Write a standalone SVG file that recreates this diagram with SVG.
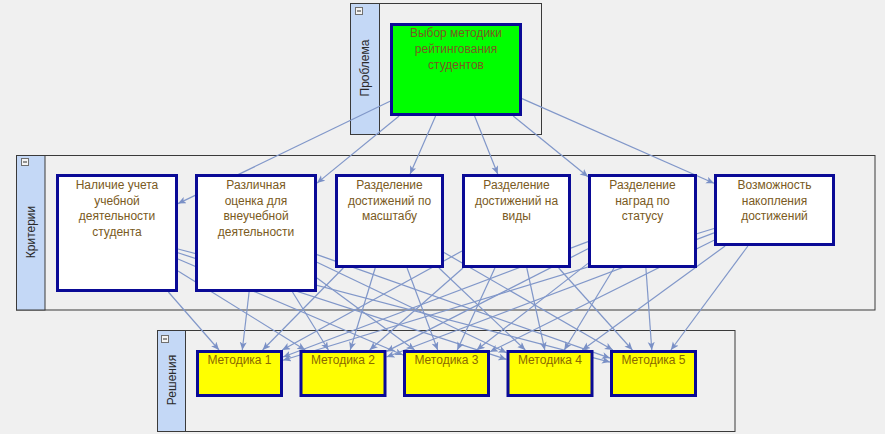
<svg xmlns="http://www.w3.org/2000/svg" width="885" height="434" viewBox="0 0 885 434">
<defs>
<marker id="arr" markerWidth="9" markerHeight="8" refX="8" refY="3.5" orient="auto" markerUnits="userSpaceOnUse">
<path d="M0,0 L8,3.5 L0,7 L2,3.5 z" fill="#7a90c6"/>
</marker>
<style>
.panel{fill:#f0f0f0;stroke:#3a3a3a;stroke-width:1}
.hdr{fill:#c4d8f6;stroke:#3a3a3a;stroke-width:1}
.hdrt{font-family:"Liberation Sans",Arial,sans-serif;font-size:12px;fill:#2a2a2a;text-anchor:middle}
.ico{fill:#f4f4f4;stroke:#707070;stroke-width:1}
.icm{stroke:#303030;stroke-width:1}
.node{stroke:#0a0a96;stroke-width:3}
.crit{fill:#ffffff}
.prob{fill:#00ff00}
.meth{fill:#ffff00}
.t{font-family:"Liberation Sans",Arial,sans-serif;font-size:12px;fill:#7a5a22;text-anchor:middle}
.tm{font-family:"Liberation Sans",Arial,sans-serif;font-size:12px;fill:#8a6a00;text-anchor:middle}
.c{stroke:#8197c9;stroke-width:1.2;fill:none;marker-end:url(#arr)}
</style>
</defs>
<rect x="0" y="0" width="885" height="434" fill="#f0f0f0"/>

<g id="panel-problem">
<rect class="panel" x="350.5" y="3.5" width="191" height="131"/>
<rect class="hdr" x="350.5" y="3.5" width="29" height="131"/>
<rect class="ico" x="355.5" y="7.5" width="7" height="7"/>
<line class="icm" x1="357" y1="11" x2="361" y2="11"/>
<text class="hdrt" transform="translate(369,68) rotate(-90)">Проблема</text>
</g>
<g id="panel-criteria">
<rect class="panel" x="16.5" y="155.5" width="858.5" height="154.5"/>
<rect class="hdr" x="16.5" y="155.5" width="28.5" height="154.5"/>
<rect class="ico" x="21.5" y="158.5" width="7" height="7"/>
<line class="icm" x1="23" y1="162" x2="27" y2="162"/>
<text class="hdrt" transform="translate(35,232) rotate(-90)">Критерии</text>
</g>
<g id="panel-solutions">
<rect class="panel" x="157.5" y="330.5" width="577.5" height="101"/>
<rect class="hdr" x="157.5" y="330.5" width="28" height="101"/>
<rect class="ico" x="161.5" y="335.5" width="7" height="7"/>
<line class="icm" x1="163" y1="339" x2="167" y2="339"/>
<text class="hdrt" transform="translate(176,380) rotate(-90)">Решения</text>
</g>

<g id="connectors">
<line class="c" x1="390" y1="101.3" x2="178" y2="203.6"/>
<line class="c" x1="399.1" y1="116" x2="317" y2="183.1"/>
<line class="c" x1="435.6" y1="116" x2="410.1" y2="174"/>
<line class="c" x1="474.6" y1="116" x2="497.7" y2="174"/>
<line class="c" x1="513.2" y1="116" x2="588" y2="176.7"/>
<line class="c" x1="522" y1="98.6" x2="714" y2="183.3"/>

<line class="c" x1="168.4" y1="292" x2="219" y2="350"/>
<line class="c" x1="178" y1="270.9" x2="305.2" y2="350"/>
<line class="c" x1="178" y1="259" x2="403" y2="355"/>
<line class="c" x1="178" y1="252.8" x2="506.5" y2="359.4"/>
<line class="c" x1="178" y1="249" x2="610" y2="362.1"/>

<line class="c" x1="249.1" y1="292" x2="242.3" y2="350"/>
<line class="c" x1="292.5" y1="292" x2="328.4" y2="350"/>
<line class="c" x1="317" y1="278" x2="414.6" y2="350"/>
<line class="c" x1="317" y1="262.2" x2="506.5" y2="352.7"/>
<line class="c" x1="317" y1="254.6" x2="610" y2="358.1"/>

<line class="c" x1="343.3" y1="268" x2="262.6" y2="350"/>
<line class="c" x1="375.2" y1="268" x2="350.2" y2="350"/>
<line class="c" x1="407.1" y1="268" x2="437.7" y2="350"/>
<line class="c" x1="439" y1="268" x2="525.3" y2="350"/>
<line class="c" x1="444" y1="252.5" x2="612.8" y2="350"/>

<line class="c" x1="462" y1="251" x2="282.2" y2="350"/>
<line class="c" x1="463" y1="268" x2="369.7" y2="350"/>
<line class="c" x1="494.9" y1="268" x2="457.3" y2="350"/>
<line class="c" x1="526.8" y1="268" x2="544.8" y2="350"/>
<line class="c" x1="558.7" y1="268" x2="632.4" y2="350"/>

<line class="c" x1="588" y1="241.6" x2="283" y2="357"/>
<line class="c" x1="588" y1="248.8" x2="386.5" y2="351.4"/>
<line class="c" x1="588" y1="263.4" x2="476.7" y2="350"/>
<line class="c" x1="614" y1="268" x2="564.3" y2="350"/>
<line class="c" x1="645.9" y1="268" x2="651.8" y2="350"/>

<line class="c" x1="714" y1="228.5" x2="283" y2="360.2"/>
<line class="c" x1="714" y1="232.9" x2="386.5" y2="357"/>
<line class="c" x1="714" y1="240.2" x2="490" y2="351.8"/>
<line class="c" x1="725.1" y1="246" x2="582.3" y2="350"/>
<line class="c" x1="747.9" y1="246" x2="670.9" y2="350"/>
</g>

<g id="problem">
<rect class="node prob" x="391.5" y="24.5" width="129" height="90"/>
<text class="t"><tspan x="456" y="37">Выбор методики</tspan><tspan x="456" y="53">рейтингования</tspan><tspan x="456" y="68.5">студентов</tspan></text>
</g>

<g id="crit1">
<rect class="node crit" x="57.5" y="175.5" width="119" height="115"/>
<text class="t"><tspan x="117" y="189">Наличие учета</tspan><tspan x="117" y="204.5">учебной</tspan><tspan x="117" y="220">деятельности</tspan><tspan x="117" y="235.5">студента</tspan></text>
</g>
<g id="crit2">
<rect class="node crit" x="196.5" y="175.5" width="119" height="115"/>
<text class="t"><tspan x="256" y="189">Различная</tspan><tspan x="256" y="204.5">оценка для</tspan><tspan x="256" y="220">внеучебной</tspan><tspan x="256" y="235.5">деятельности</tspan></text>
</g>
<g id="crit3">
<rect class="node crit" x="336.5" y="175.5" width="106" height="91"/>
<text class="t"><tspan x="389.5" y="189">Разделение</tspan><tspan x="389.5" y="204.5">достижений по</tspan><tspan x="389.5" y="220">масштабу</tspan></text>
</g>
<g id="crit4">
<rect class="node crit" x="463.5" y="175.5" width="106" height="91"/>
<text class="t"><tspan x="516.5" y="189">Разделение</tspan><tspan x="516.5" y="204.5">достижений на</tspan><tspan x="516.5" y="220">виды</tspan></text>
</g>
<g id="crit5">
<rect class="node crit" x="589.5" y="175.5" width="106" height="91"/>
<text class="t"><tspan x="642.5" y="189">Разделение</tspan><tspan x="642.5" y="204.5">наград по</tspan><tspan x="642.5" y="220">статусу</tspan></text>
</g>
<g id="crit6">
<rect class="node crit" x="715.5" y="175.5" width="118" height="69"/>
<text class="t"><tspan x="774.5" y="189">Возможность</tspan><tspan x="774.5" y="204.5">накопления</tspan><tspan x="774.5" y="220">достижений</tspan></text>
</g>

<g id="meth1">
<rect class="node meth" x="197.5" y="351.5" width="84" height="44"/>
<text class="tm" x="239.5" y="363.5">Методика 1</text>
</g>
<g id="meth2">
<rect class="node meth" x="301" y="351.5" width="84" height="44"/>
<text class="tm" x="343" y="363.5">Методика 2</text>
</g>
<g id="meth3">
<rect class="node meth" x="404.5" y="351.5" width="84" height="44"/>
<text class="tm" x="446.5" y="363.5">Методика 3</text>
</g>
<g id="meth4">
<rect class="node meth" x="508" y="351.5" width="84" height="44"/>
<text class="tm" x="550" y="363.5">Методика 4</text>
</g>
<g id="meth5">
<rect class="node meth" x="611.5" y="351.5" width="84" height="44"/>
<text class="tm" x="653.5" y="363.5">Методика 5</text>
</g>
</svg>
